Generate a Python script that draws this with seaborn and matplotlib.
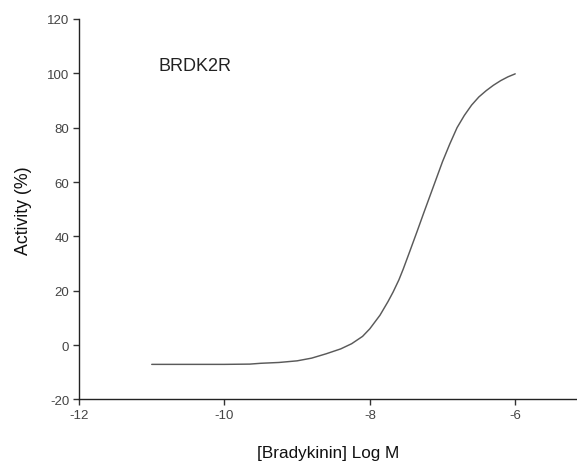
import matplotlib
matplotlib.use("Agg")
import matplotlib.pyplot as plt
import seaborn as sns
import pandas as pd

# Values
log_conc = [-11.0, -10.5, -10.0, -9.65, -9.5, -9.25, -9.0, -8.8, -8.6, -8.4,
            -8.25, -8.1, -8.0, -7.86, -7.75, -7.68, -7.6, -7.54, -7.45, -7.35,
            -7.26, -7.13, -7.0, -6.9, -6.8, -6.7, -6.6, -6.5, -6.4, -6.3,
            -6.2, -6.1, -6.0]
activity = [-7.1, -7.1, -7.1, -7.0, -6.7, -6.4, -5.8, -4.8, -3.2, -1.4,
            0.5, 3.2, 6.0, 11.0, 16.0, 19.5, 24.0, 28.0, 34.5, 41.8,
            48.5, 58.0, 67.5, 74.0, 80.0, 84.5, 88.3, 91.3, 93.6, 95.6,
            97.3, 98.7, 99.8]
x_ticks = [-12, -10, -8, -6]
y_ticks = [-20, 0, 20, 40, 60, 80, 100, 120]
label_text = "BRDK2R"

sns.set_theme(style="white")
plt.rcParams['font.family'] = ['Liberation Sans', 'DejaVu Sans']
plt.rcParams['axes.unicode_minus'] = False

df = pd.DataFrame({"x": log_conc, "y": activity})

fig = plt.figure(figsize=(5.77, 4.64), dpi=100)
ax = fig.add_axes([0.137, 0.137, 0.863, 0.820])
sns.lineplot(data=df, x="x", y="y", ax=ax, color="#5a5a5a", linewidth=1.05)
for l in ax.get_lines():
    l.set_solid_joinstyle("round")

ax.set_xlim(-12, -5.15)
ax.set_ylim(-20, 120)
ax.set_xticks(x_ticks)
ax.set_yticks(y_ticks)
ax.tick_params(axis="both", direction="out", length=4, width=1, color="#333333",
               labelsize=9.5, labelcolor="#444444", bottom=True, left=True, pad=3)
for s in ["top", "right"]:
    ax.spines[s].set_visible(False)
for s in ["left", "bottom"]:
    ax.spines[s].set_color("#222222")
    ax.spines[s].set_linewidth(1.0)

ax.set_xlabel("[Bradykinin] Log M", fontsize=12.3, color="#111111", labelpad=17)
ax.set_ylabel("Activity (%)", fontsize=12.8, color="#111111", labelpad=11)

ax.text(-10.4, 102.8, label_text, fontsize=13, color="#222222", ha="center", va="center")

fig.savefig("out.png", dpi=100, facecolor="white")
